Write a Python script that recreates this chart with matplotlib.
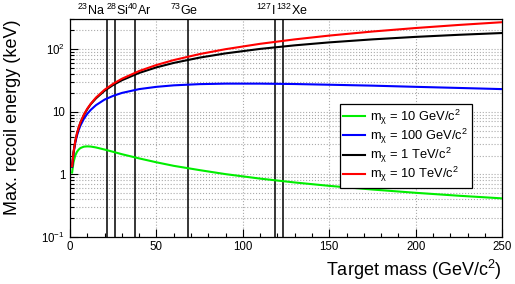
import numpy as np
import matplotlib
matplotlib.use("Agg")
import matplotlib.pyplot as plt
from matplotlib.ticker import MultipleLocator, LogLocator, FixedLocator, FixedFormatter, NullFormatter

plt.rcParams['font.family'] = ['Liberation Sans', 'DejaVu Sans']
plt.rcParams['mathtext.fontset'] = 'custom'
plt.rcParams['mathtext.rm'] = 'Liberation Sans'
plt.rcParams['mathtext.it'] = 'Liberation Sans'
plt.rcParams['mathtext.bf'] = 'Liberation Sans:bold'

# target mass (GeV/c^2)
target_mass = [1.2, 2, 3, 4, 5, 6, 8, 10, 12, 15, 20, 25, 30, 40, 50, 60, 75, 90,
               110, 130, 150, 175, 200, 225, 250]

# max. recoil energy (keV)
e_10gev = [1.07, 1.56, 1.99, 2.29, 2.49, 2.63, 2.77, 2.80, 2.78, 2.69, 2.49, 2.29, 2.10,
           1.80, 1.56, 1.37, 1.17, 1.01, 0.857, 0.744, 0.657, 0.574, 0.509, 0.457, 0.415]
e_100gev = [1.32, 2.16, 3.17, 4.15, 5.09, 5.99, 7.70, 9.27, 10.7, 12.7, 15.6, 17.9, 19.9,
            22.9, 24.9, 26.3, 27.5, 28.0, 28.0, 27.6, 26.9, 26.0, 24.9, 23.9, 22.9]
e_1tev = [1.34, 2.24, 3.35, 4.45, 5.55, 6.65, 8.83, 11.0, 13.2, 16.3, 21.6, 26.7, 31.7,
          41.5, 50.9, 59.9, 72.8, 85.0, 100.2, 114.2, 127.3, 142.2, 155.8, 168.2, 179.5]
e_10tev = [1.35, 2.24, 3.36, 4.49, 5.60, 6.72, 8.96, 11.2, 13.4, 16.8, 22.4, 27.9, 33.5,
           44.5, 55.5, 66.5, 82.9, 99.2, 120.8, 142.1, 163.4, 189.7, 215.7, 241.5, 267.0]

series_labels = ['m$_{\\chi}$ = 10 GeV/c$^{2}$', 'm$_{\\chi}$ = 100 GeV/c$^{2}$',
                 'm$_{\\chi}$ = 1 TeV/c$^{2}$', 'm$_{\\chi}$ = 10 TeV/c$^{2}$']
series_colors = ['#00ee00', '#0000ff', 'black', '#ff0000']

# detector target nuclei (mass in GeV/c^2)
nuclei = ['$^{23}$Na', '$^{28}$Si', '$^{40}$Ar', '$^{73}$Ge', '$^{127}$I', '$^{132}$Xe']
nuclei_mass = [21.4, 26.1, 37.3, 68.0, 118.3, 123.0]
label_shift_px = [-16, 2, 5, -3, -9, 9]

fig = plt.figure(figsize=(5.15, 2.84), dpi=100)
ax = fig.add_axes([0.136, 0.165, 0.839, 0.768])

ax.set_xlim(0, 250)
ax.set_yscale('log')
ax.set_ylim(0.1, 300)

for m in nuclei_mass:
    ax.axvline(m, color='black', lw=1.1, zorder=2)

for e, lab, col in zip([e_10gev, e_100gev, e_1tev, e_10tev], series_labels, series_colors):
    ax.plot(target_mass, e, color=col, lw=1.5, label=lab, zorder=3)

for name, m, dx in zip(nuclei, nuclei_mass, label_shift_px):
    ax.annotate(name, xy=(m, 1.0), xycoords=('data', 'axes fraction'),
                xytext=(dx * 0.72, 0.5), textcoords='offset points',
                ha='center', va='bottom', fontsize=9, annotation_clip=False)

# ticks ROOT style
ax.xaxis.set_major_locator(MultipleLocator(50))
ax.xaxis.set_minor_locator(MultipleLocator(10))
ax.yaxis.set_major_locator(FixedLocator([0.1, 1, 10, 100]))
ax.yaxis.set_major_formatter(FixedFormatter(['$10^{-1}$', '1', '10', '$10^{2}$']))
ax.yaxis.set_minor_locator(LogLocator(base=10, subs=np.arange(2, 10)))
ax.yaxis.set_minor_formatter(NullFormatter())
ax.tick_params(which='both', direction='in', labelsize=8.3, width=0.8)
ax.tick_params(which='major', length=6)
ax.tick_params(which='minor', length=3)
ax.tick_params(axis='x', pad=3)

ax.grid(True, which='major', axis='x', color='#aaaaaa', ls=':', lw=0.8)
ax.grid(True, which='both', axis='y', color='#aaaaaa', ls=':', lw=0.8)
ax.set_axisbelow(True)
for s in ax.spines.values():
    s.set_linewidth(0.9)

ax.set_xlabel('Target mass (GeV/c$^{2}$)', fontsize=13, loc='right', labelpad=3)
ax.set_ylabel('Max. recoil energy (keV)', fontsize=13, loc='top', labelpad=15)

leg = ax.legend(loc='upper left', bbox_to_anchor=(0.625, 0.609), fontsize=9.3,
                frameon=True, fancybox=False, edgecolor='black', framealpha=1,
                handlelength=1.7, handletextpad=0.4, labelspacing=0.0,
                borderpad=0.25, borderaxespad=0)
leg.get_frame().set_linewidth(0.9)

fig.savefig('out.png', dpi=100)
